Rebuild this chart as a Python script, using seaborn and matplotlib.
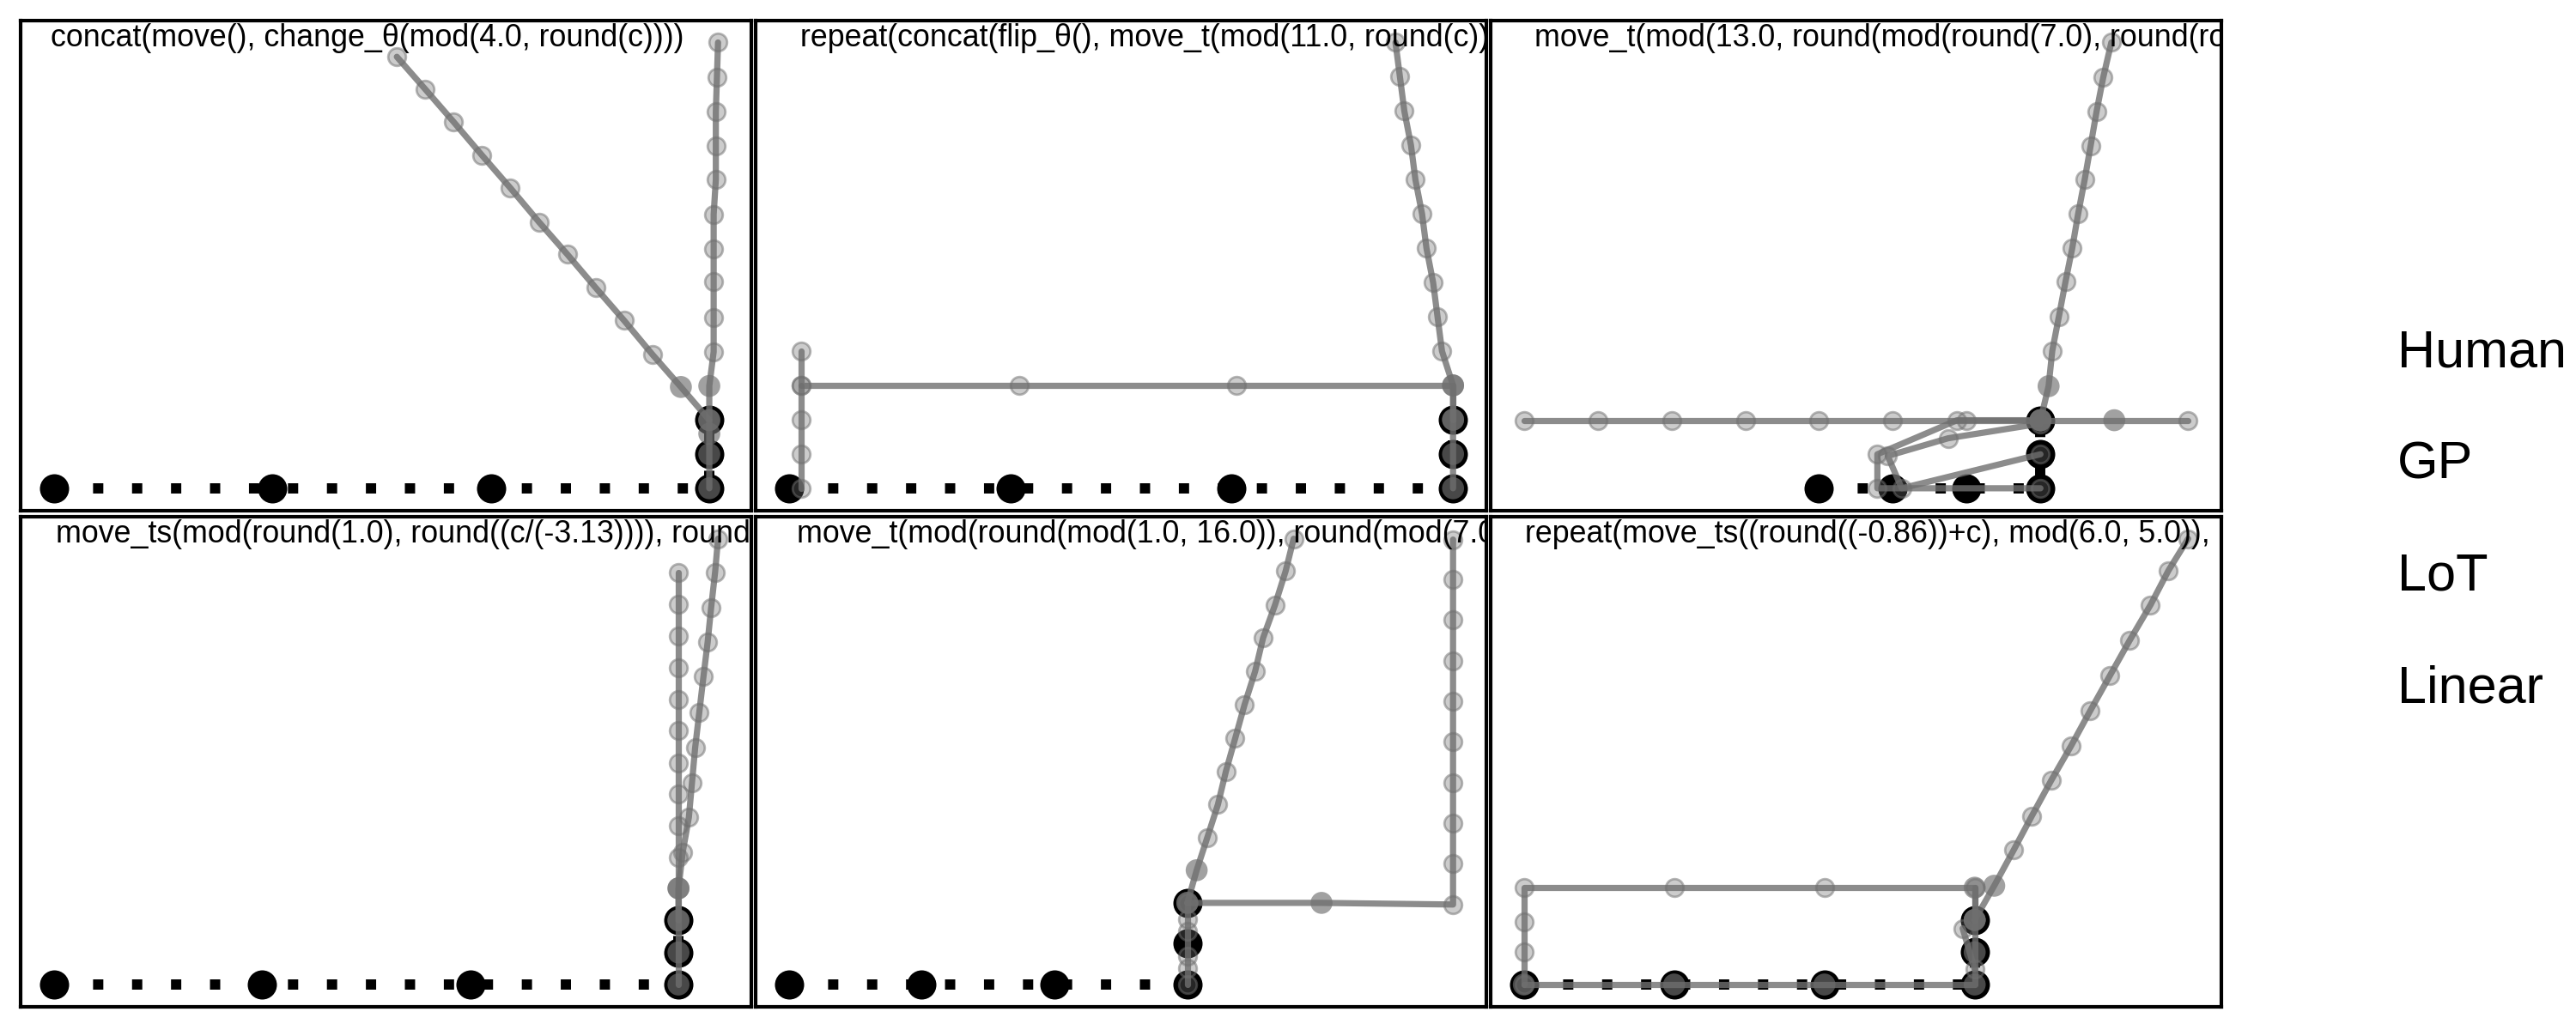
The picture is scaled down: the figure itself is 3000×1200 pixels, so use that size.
import matplotlib
matplotlib.use('Agg')
import matplotlib.pyplot as plt
from matplotlib.lines import Line2D
import pandas as pd
import seaborn as sns

# human sequence, same in every panel
HUMAN_X = [0, 1, 2, 3, 3, 3]
HUMAN_Y = [0, 0, 0, 0, 1, 2]

LEGEND_LABELS = ['Human', 'GP', 'LoT', 'Linear']

TITLES = [
    'concat(move(), change_θ(mod(4.0, round(c))))',
    'repeat(concat(flip_θ(), move_t(mod(11.0, round(c)))))',
    'move_t(mod(13.0, round(mod(round(7.0), round(round(c))))))',
    'move_ts(mod(round(1.0), round((c/(-3.13)))), round(c))',
    'move_t(mod(round(mod(1.0, 16.0)), round(mod(7.0, c))))',
    'repeat(move_ts((round((-0.86))+c), mod(6.0, 5.0)), 3)',
]

# model trajectories per panel; *_BIG = how many leading points get the big dark marker
P1_X = [[3, 3, 3, 3, 3.02, 3.02, 3.02, 3.02, 3.02, 3.03, 3.03, 3.03, 3.035, 3.04],
        [3, 2.87, 2.74, 2.61, 2.48, 2.35, 2.22, 2.09, 1.96, 1.83, 1.70, 1.57],
        [3]]
P1_Y = [[0, 1, 2, 3, 4, 5, 6.05, 7.03, 8.03, 9.06, 10.04, 11.05, 12.05, 13.07],
        [2, 2.97, 3.92, 4.92, 5.88, 6.86, 7.81, 8.8, 9.76, 10.74, 11.7, 12.65],
        [1.6]]
P1_BIG = [4, 2, 1]

P2_X = [[3, 3, 2.02, 1.04, 0.056, 0.056],
        [0.056, 0.056, 0.056, 0.056],
        [3, 3, 3, 3, 2.95, 2.93, 2.91, 2.88, 2.86, 2.83, 2.81, 2.78, 2.76, 2.74]]
P2_Y = [[2, 3, 3, 3, 3, 4],
        [0, 1, 2, 3],
        [0, 1, 2, 3, 4, 5, 6, 7, 8, 9, 10, 11, 12, 13]]
P2_BIG = [2, 0, 4]

P3_X = [[3, 3.11, 3.16, 3.25, 3.34, 3.43, 3.51, 3.6, 3.68, 3.76, 3.85, 3.96],
        [3, 4, 5],
        [3, 2, 1, 0, -1, -2, -3, -4],
        [3, 1.87, 0.79, 0.79, 3],
        [3, 1.75, 0.93, 1.12, 3]]
P3_Y = [[2, 3, 4.04, 5.05, 6.08, 7.05, 8.06, 9.08, 10.07, 11.07, 12.07, 13.1],
        [2, 2, 2],
        [2, 2, 2, 2, 2, 2, 2, 2],
        [2, 2, 1, 0, 0],
        [1.9, 1.47, 0.95, 0, 1]]
P3_BIG = [2, 2, 1, 1, 0]

P4_X = [[3] * 14,
        [3, 3, 3.02, 3.05, 3.065, 3.08, 3.1, 3.12, 3.14, 3.157, 3.176, 3.19]]
P4_Y = [[0, 1, 2, 3, 3.96, 4.94, 5.93, 6.91, 7.91, 8.89, 9.88, 10.86, 11.86, 12.86],
        [2, 3, 4.11, 5.22, 6.3, 7.38, 8.49, 9.6, 10.67, 11.76, 12.86, 13.9]]
P4_BIG = [4, 2]

P5_X = [[3, 4.01, 5, 5, 5, 5, 5, 5, 5, 5, 5, 5],
        [3, 3.07, 3.15, 3.23, 3.29, 3.36, 3.43, 3.51, 3.57, 3.66, 3.74, 3.80],
        [3, 3, 3, 3, 3, 3]]
P5_Y = [[2, 2, 1.96, 2.96, 3.95, 4.95, 5.95, 6.94, 7.93, 8.93, 9.92, 10.9],
        [2, 2.8, 3.6, 4.41, 5.22, 6.03, 6.85, 7.67, 8.49, 9.3, 10.13, 10.92],
        [0, 0.4, 0.7, 1.3, 1.6, 2]]
P5_BIG = [2, 2, 0]

P6_X = [[3, 3, 2, 1, 0, 0, 0, 0],
        [0, 1, 2, 3, 3, 3, 3],
        [3, 3.13, 3.26, 3.38, 3.51, 3.64, 3.77, 3.90, 4.03, 4.17, 4.29, 4.42],
        [3, 2.92]]
P6_Y = [[2, 3, 3, 3, 3, 1.95, 1, 0],
        [0, 0, 0, 0, 1, 2, 3],
        [2, 3.06, 4.17, 5.22, 6.33, 7.38, 8.49, 9.57, 10.65, 11.76, 12.83, 13.81],
        [0.47, 1.74]]
P6_BIG = [2, 6, 2, 0]

PANELS = [(P1_X, P1_Y, P1_BIG), (P2_X, P2_Y, P2_BIG), (P3_X, P3_Y, P3_BIG),
          (P4_X, P4_Y, P4_BIG), (P5_X, P5_Y, P5_BIG), (P6_X, P6_Y, P6_BIG)]
TITLE_X = [0.041, 0.061, 0.060, 0.048, 0.056, 0.047]

GRAY = (0.435, 0.435, 0.435)

sns.set_theme(style='white')
plt.rcParams['font.family'] = ['Liberation Sans', 'DejaVu Sans']
plt.rcParams['text.color'] = 'black'

fig, axes = plt.subplots(2, 3, figsize=(15, 6), dpi=200)
fig.subplots_adjust(left=0.008, right=0.8623, bottom=0.0225, top=0.9804,
                    wspace=0.006, hspace=0.012)

human = pd.DataFrame({'x': HUMAN_X, 'y': HUMAN_Y})

for ax, title, tx, (xs, ys, nbig) in zip(axes.flat, TITLES, TITLE_X, PANELS):
    # human: black dots on a thick dotted line
    sns.lineplot(data=human, x='x', y='y', sort=False, estimator=None,
                 color='black', linewidth=4.3, linestyle=(0, (1, 2.8)),
                 ax=ax, zorder=2)
    sns.scatterplot(data=human, x='x', y='y', color='black', edgecolor='black',
                    s=150, linewidth=0, ax=ax, zorder=2.5)

    # model predictions
    for sx, sy, nb in zip(xs, ys, nbig):
        df = pd.DataFrame({'x': sx, 'y': sy})
        sns.lineplot(data=df, x='x', y='y', sort=False, estimator=None,
                     color=GRAY, alpha=0.8, linewidth=2.6, ax=ax, zorder=3)
        big = df.iloc[:nb]
        rest = df.iloc[nb:]
        if len(rest):
            sns.scatterplot(data=rest, x='x', y='y', color=GRAY + (0.35,),
                            edgecolor=GRAY + (0.5,), linewidth=1.0, s=55,
                            ax=ax, zorder=4)
        if len(big):
            sns.scatterplot(data=big, x='x', y='y', color=GRAY + (0.65,),
                            edgecolor='none', linewidth=0, s=85,
                            ax=ax, zorder=4)

    ax.text(tx, 0.9475, title, transform=ax.transAxes, fontsize=12.9,
            color='black', ha='left', va='baseline', clip_on=True, zorder=5)
    ax.set_xlabel('')
    ax.set_ylabel('')
    ax.set_xticks([])
    ax.set_yticks([])
    for sp in ax.spines.values():
        sp.set_color('black')
        sp.set_linewidth(1.5)

handles = [Line2D([], [], color='none') for _ in LEGEND_LABELS]
leg = fig.legend(handles=handles, labels=LEGEND_LABELS, loc='center left',
                 bbox_to_anchor=(0.9306, 0.494), frameon=False, handlelength=0,
                 handletextpad=0, borderpad=0, borderaxespad=0, fontsize=22,
                 labelspacing=1.2)
for t in leg.get_texts():
    t.set_color('black')

fig.savefig('out.png', dpi=200)
